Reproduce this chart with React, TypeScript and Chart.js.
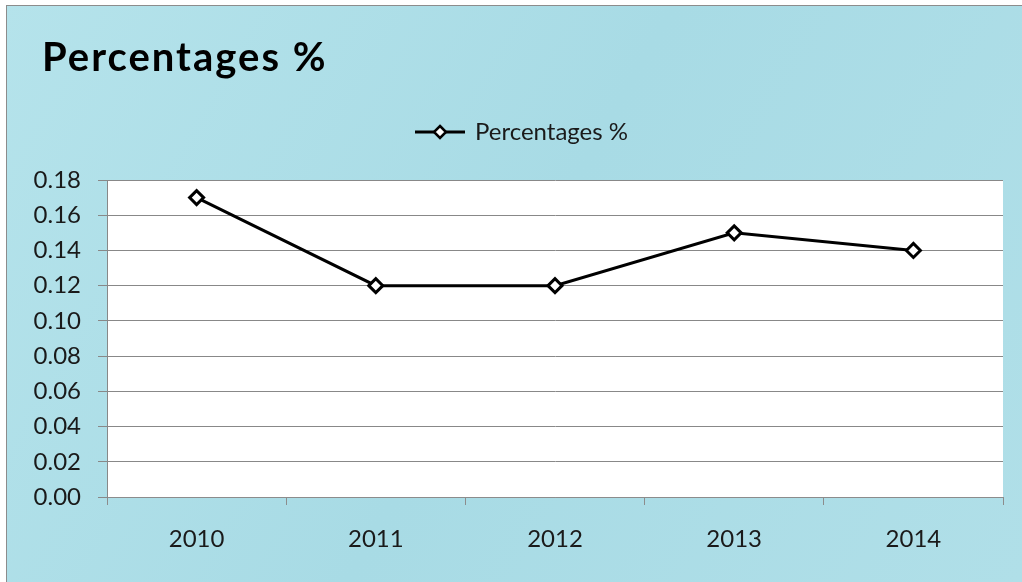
import React, { useEffect, useRef } from "react";
import { Chart, registerables } from "chart.js";

Chart.register(...registerables);

const categories = ["2010", "2011", "2012", "2013", "2014"];
const seriesName = "Percentages %";
const seriesValues = [0.17, 0.12, 0.12, 0.15, 0.14];
const chartTitle = "Percentages %";
const yMin = 0;
const yMax = 0.18;
const yStep = 0.02;

function makeLegendIcon(): HTMLCanvasElement {
  const c = document.createElement("canvas");
  c.width = 52;
  c.height = 16;
  const ctx = c.getContext("2d")!;
  ctx.strokeStyle = "#000";
  ctx.lineWidth = 3;
  ctx.beginPath();
  ctx.moveTo(1, 8);
  ctx.lineTo(51, 8);
  ctx.stroke();
  ctx.beginPath();
  ctx.moveTo(26, 2);
  ctx.lineTo(32, 8);
  ctx.lineTo(26, 14);
  ctx.lineTo(20, 8);
  ctx.closePath();
  ctx.fillStyle = "#fff";
  ctx.fill();
  ctx.lineWidth = 2.5;
  ctx.stroke();
  return c;
}

const bgPlugin = {
  id: "bgPlugin",
  afterLayout(chart: any) {
    const lg = chart.legend;
    if (lg) {
      lg.left += 21;
      lg.right += 21;
    }
  },
  beforeDraw(chart: any) {
    const { ctx, width, height, chartArea } = chart;
    ctx.save();
    ctx.fillStyle = "#ffffff";
    ctx.fillRect(0, 0, width, height);
    const g = ctx.createLinearGradient(0, 0, width, height);
    g.addColorStop(0, "#b5e3eb");
    g.addColorStop(0.5, "#a8dbe5");
    g.addColorStop(1, "#b0dfe8");
    ctx.fillStyle = g;
    ctx.fillRect(6, 5, width, height);
    ctx.strokeStyle = "#8c8c8c";
    ctx.lineWidth = 1;
    ctx.strokeRect(6.5, 5.5, width + 10, height + 10);
    ctx.fillStyle = "#ffffff";
    ctx.fillRect(chartArea.left, chartArea.top, chartArea.right - chartArea.left, chartArea.bottom - chartArea.top);
    ctx.fillStyle = "#000";
    ctx.font = "bold 40px Lato";
    (ctx as any).letterSpacing = "2px";
    ctx.textBaseline = "alphabetic";
    ctx.textAlign = "left";
    ctx.fillText(chartTitle, 42, 71);
    ctx.restore();
  },
};

export default function App() {
  const ref = useRef<HTMLCanvasElement>(null);
  useEffect(() => {
    document.body.style.margin = "0";
    const icon = makeLegendIcon();
    const chart = new Chart(ref.current!, {
      type: "line",
      data: {
        labels: categories,
        datasets: [
          {
            label: seriesName,
            data: seriesValues,
            borderColor: "#000",
            borderWidth: 3,
            backgroundColor: "#fff",
            pointStyle: "rectRot",
            pointRadius: 7,
            pointBorderWidth: 3,
            pointBackgroundColor: "#fff",
            pointBorderColor: "#000",
            tension: 0,
          },
        ],
      },
      options: {
        responsive: false,
        animation: false,
        layout: { padding: { top: 93, left: 0, right: 19, bottom: 0 } },
        plugins: {
          title: {
            display: true,
            text: "",
            weight: 0,
            font: { size: 10, lineHeight: 1 },
            padding: { top: 8, bottom: 8 },
          },
          tooltip: { enabled: false },
          legend: {
            display: true,
            position: "top",
            labels: {
              usePointStyle: true,
              pointStyle: icon as any,
              pointStyleWidth: 46,
              padding: 27,
              color: "#1a1a1a",
              font: { family: "Lato", size: 24 },
              generateLabels: (ch: any) =>
                ch.data.datasets.map((d: any, i: number) => ({
                  text: d.label,
                  pointStyle: icon,
                  fillStyle: "#fff",
                  strokeStyle: "#000",
                  lineWidth: 0,
                  hidden: false,
                  datasetIndex: i,
                  fontColor: "#1a1a1a",
                })),
            },
          },
        },
        scales: {
          x: {
            offset: true,
            grid: {
              offset: true,
              drawOnChartArea: false,
              drawTicks: true,
              tickLength: 8,
              color: "#8c8c8c",
            },
            border: { display: true, color: "#8c8c8c", width: 1 },
            ticks: {
              color: "#1a1a1a",
              font: { family: "Lato", size: 24 },
              padding: 20,
              maxRotation: 0,
            },
            afterFit: (s: any) => {
              s.height = 85;
            },
          },
          y: {
            min: yMin,
            max: yMax,
            grid: {
              color: "#888888",
              lineWidth: 1,
              tickLength: 9,
            },
            border: { display: true, color: "#888888", width: 1 },
            ticks: {
              stepSize: yStep,
              color: "#1a1a1a",
              font: { family: "Lato", size: 24 },
              padding: 17,
              callback: (v: any) => Number(v).toFixed(2),
            },
            afterFit: (s: any) => {
              s.width = 107;
            },
          },
        },
      },
      plugins: [bgPlugin],
    });
    return () => chart.destroy();
  }, []);
  return (
    <div style={{ width: 1022, height: 582 }}>
      <canvas ref={ref} width={1022} height={582} style={{ display: "block" }} />
    </div>
  );
}
